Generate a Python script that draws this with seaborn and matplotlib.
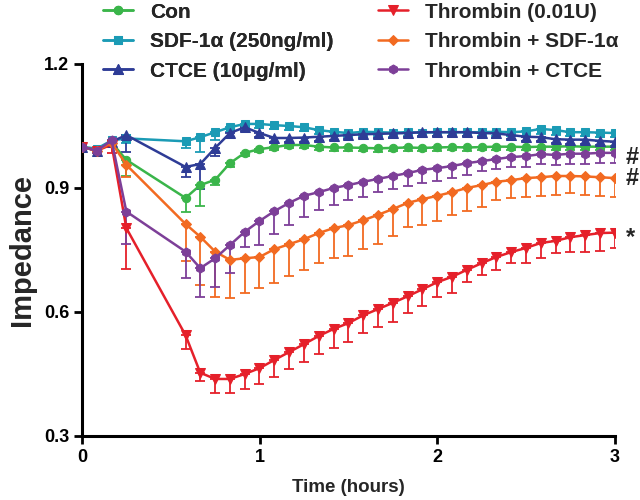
import numpy as np
import pandas as pd
import matplotlib
matplotlib.use("Agg")
import matplotlib.pyplot as plt
import seaborn as sns

sns.set_style("ticks")
plt.rcParams['font.family'] = ['Liberation Sans', 'DejaVu Sans']
plt.rcParams['font.weight'] = 'bold'

# time points (hours): baseline, then 5-min readings after treatment
time = [0, 0.083, 0.167, 0.25] + [round(0.583 + 0.0833 * k, 3) for k in range(30)]

series = ['Con', 'SDF-1\u03b1 (250ng/ml)', 'CTCE (10\u03bcg/ml)',
          'Thrombin (0.01U)', 'Thrombin + SDF-1\u03b1', 'Thrombin + CTCE']

con = [1.0, 0.99, 1.01, 0.968, 0.876, 0.907, 0.92, 0.96, 0.985, 0.994, 0.999, 1.004, 1.004,
       1.0, 0.998, 0.998, 0.997, 0.996, 0.997, 0.998, 0.997, 0.998, 0.999, 0.998, 0.999,
       1.0, 1.0, 0.999, 1.0, 1.0, 1.001, 1.0, 1.0, 1.0]
sdf = [1.0, 0.995, 1.015, 1.02, 1.013, 1.023, 1.035, 1.047, 1.055, 1.055, 1.052, 1.05, 1.047,
       1.04, 1.036, 1.033, 1.036, 1.035, 1.034, 1.035, 1.034, 1.035, 1.035, 1.035, 1.035,
       1.036, 1.035, 1.037, 1.043, 1.04, 1.035, 1.035, 1.034, 1.033]
ctce = [1.0, 0.99, 1.012, 1.028, 0.951, 0.958, 0.997, 1.033, 1.047, 1.033, 1.021, 1.021, 1.022,
        1.024, 1.026, 1.028, 1.03, 1.031, 1.032, 1.033, 1.035, 1.035, 1.035, 1.035, 1.033,
        1.032, 1.028, 1.024, 1.023, 1.018, 1.017, 1.017, 1.014, 1.012]
thr = [1.0, 0.99, 1.005, 0.803, 0.544, 0.453, 0.438, 0.438, 0.45, 0.464, 0.484, 0.503, 0.522,
       0.542, 0.559, 0.573, 0.592, 0.607, 0.622, 0.638, 0.655, 0.672, 0.685, 0.702, 0.718,
       0.733, 0.745, 0.755, 0.767, 0.772, 0.781, 0.786, 0.791, 0.792]
thr_sdf = [1.0, 0.99, 1.01, 0.956, 0.813, 0.782, 0.746, 0.726, 0.73, 0.733, 0.752, 0.764, 0.776,
           0.791, 0.803, 0.81, 0.822, 0.835, 0.849, 0.864, 0.873, 0.881, 0.89, 0.9, 0.907,
           0.915, 0.919, 0.924, 0.926, 0.929, 0.929, 0.928, 0.926, 0.924]
thr_ctce = [1.0, 0.99, 1.015, 0.843, 0.746, 0.706, 0.73, 0.762, 0.794, 0.82, 0.844, 0.864, 0.881,
            0.89, 0.9, 0.907, 0.915, 0.922, 0.929, 0.936, 0.944, 0.948, 0.953, 0.96, 0.965,
            0.97, 0.975, 0.977, 0.982, 0.98, 0.983, 0.983, 0.985, 0.985]

# SEM (drawn one-sided, below the mean)
con_err = [0.005, 0.005, 0.008, 0.04, 0.035, 0.05, 0.012, 0.01, 0.008, 0.008, 0.008, 0.008, 0.008,
           0.008, 0.008, 0.008, 0.008, 0.008, 0.008, 0.008, 0.008, 0.008, 0.008, 0.008, 0.008,
           0.008, 0.008, 0.008, 0.008, 0.008, 0.008, 0.008, 0.008, 0.008]
sdf_err = [0.005, 0.005, 0.008, 0.01, 0.016, 0.036, 0.02, 0.012, 0.01, 0.01, 0.01, 0.01, 0.01,
           0.01, 0.01, 0.01, 0.01, 0.01, 0.01, 0.01, 0.01, 0.01, 0.01, 0.01, 0.01,
           0.01, 0.01, 0.01, 0.012, 0.012, 0.01, 0.01, 0.01, 0.01]
ctce_err = [0.005, 0.005, 0.008, 0.04, 0.025, 0.06, 0.02, 0.012, 0.01, 0.01, 0.01, 0.01, 0.01,
            0.01, 0.01, 0.01, 0.01, 0.01, 0.01, 0.01, 0.01, 0.01, 0.01, 0.01, 0.01,
            0.01, 0.01, 0.01, 0.01, 0.01, 0.01, 0.01, 0.01, 0.01]
thr_err = [0.005, 0.005, 0.02, 0.1, 0.034, 0.02, 0.034, 0.034, 0.036, 0.038, 0.041, 0.041, 0.043,
           0.044, 0.046, 0.046, 0.043, 0.043, 0.046, 0.04, 0.04, 0.035, 0.04, 0.03, 0.028,
           0.031, 0.027, 0.037, 0.037, 0.03, 0.036, 0.041, 0.044, 0.037]
thr_sdf_err = [0.005, 0.005, 0.01, 0.03, 0.09, 0.117, 0.11, 0.092, 0.084, 0.075, 0.082, 0.077, 0.075,
               0.073, 0.073, 0.075, 0.07, 0.07, 0.065, 0.058, 0.063, 0.061, 0.055, 0.056, 0.053,
               0.044, 0.043, 0.046, 0.046, 0.045, 0.041, 0.045, 0.045, 0.046]
thr_ctce_err = [0.005, 0.005, 0.01, 0.078, 0.063, 0.069, 0.07, 0.068, 0.037, 0.058, 0.055, 0.054, 0.051,
                0.043, 0.041, 0.036, 0.037, 0.032, 0.031, 0.031, 0.032, 0.031, 0.029, 0.029, 0.024,
                0.025, 0.025, 0.025, 0.025, 0.025, 0.025, 0.025, 0.025, 0.025]

colors = ['#3ab54a', '#1b9bb5', '#2e3c96', '#e5202a', '#f26a21', '#7d3f98']
markers = ['o', 's', '^', 'v', 'D', 'h']
msizes = [6, 5.5, 6.5, 6.5, 5, 6.5]

means = [con, sdf, ctce, thr, thr_sdf, thr_ctce]
errs = [con_err, sdf_err, ctce_err, thr_err, thr_sdf_err, thr_ctce_err]

df = pd.concat([pd.DataFrame({'time': time, 'value': m, 'err': e, 'group': s})
                for s, m, e in zip(series, means, errs)], ignore_index=True)

fig = plt.figure(figsize=(6.4, 5.0), dpi=100)
ax = fig.add_axes([0.128, 0.128, 0.833, 0.744])

for s, c, mk, ms in zip(series, colors, markers, msizes):
    d = df[df['group'] == s]
    ax.errorbar(d['time'], d['value'], yerr=[d['err'], np.zeros(len(d))],
                fmt='none', ecolor=c, elinewidth=1.3, capsize=3.5, capthick=1.3, zorder=2)
    sns.lineplot(data=d, x='time', y='value', color=c, marker=mk, markersize=ms,
                 markeredgecolor=c, linewidth=1.8, ax=ax, label=s, zorder=3)

ax.set_xlim(0, 3)
ax.set_ylim(0.3, 1.2)
ax.set_xticks([0, 1, 2, 3])
ax.set_yticks([0.3, 0.6, 0.9, 1.2])
ax.set_yticklabels(['0.3', '0.6', '0.9', '1.2'])
sns.despine(ax=ax)
for sp in ['left', 'bottom']:
    ax.spines[sp].set_linewidth(2.2)
    ax.spines[sp].set_color('black')
ax.tick_params(width=2.0, length=6, labelsize=13, colors='black', pad=3)
for lab in ax.get_xticklabels() + ax.get_yticklabels():
    lab.set_fontweight('bold')
ax.set_xlabel('Time (hours)', fontsize=13.5, fontweight='bold', labelpad=10)
ax.set_ylabel('Impedance', fontsize=21, fontweight='bold', labelpad=6)

# significance marks at the end of curves
for txt, y in [('#', 0.975), ('#', 0.924), ('*', 0.78)]:
    ax.text(3.06, y, txt, fontsize=17, fontweight='bold', va='center', ha='left', clip_on=False)

handles, labels = ax.get_legend_handles_labels()
ax.get_legend().remove()
leg_kw = dict(loc='upper left', frameon=False, prop={'size': 15, 'weight': 'bold'},
              handlelength=1.45, handletextpad=0.8, labelspacing=0.5)
leg1 = fig.legend(handles[:3], labels[:3], bbox_to_anchor=(0.132, 1.032), **leg_kw)
fig.add_artist(leg1)
fig.legend(handles[3:], labels[3:], bbox_to_anchor=(0.561, 1.032), **leg_kw)

fig.savefig('out.png', dpi=100)
